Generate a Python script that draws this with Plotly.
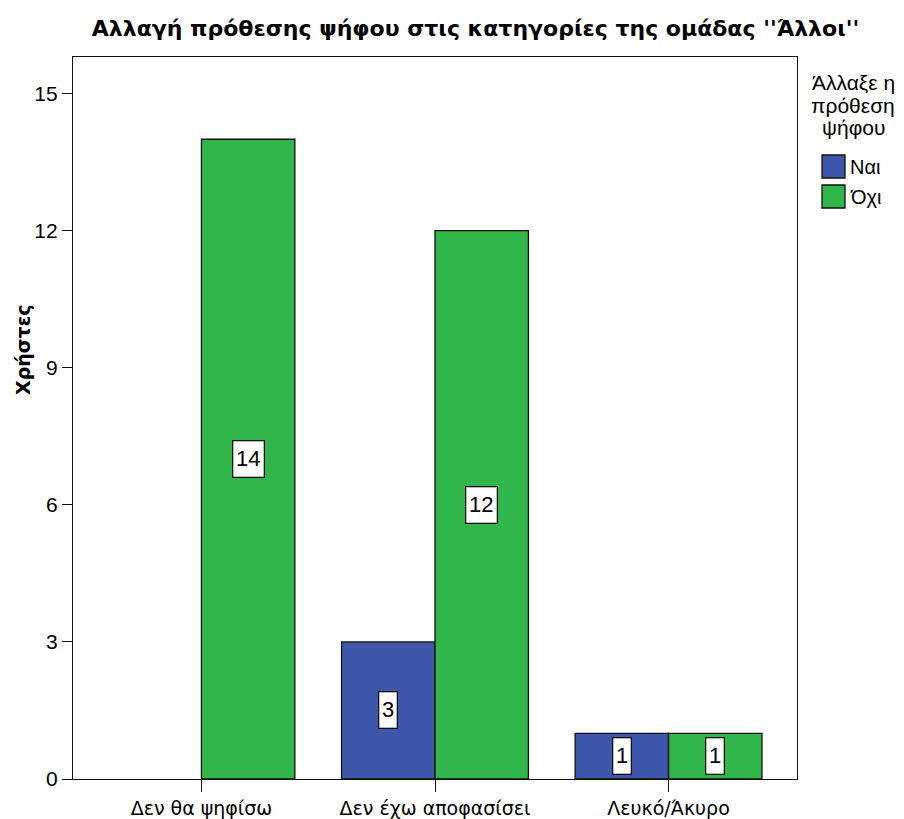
import plotly.graph_objects as go

categories = ["Δεν θα ψηφίσω", "Δεν έχω αποφασίσει", "Λευκό/Άκυρο"]
series_names = ["Ναι", "Όχι"]
nai_values = [0, 3, 1]
oxi_values = [14, 12, 1]
y_ticks = [0, 3, 6, 9, 12, 15]

title = "Αλλαγή πρόθεσης ψήφου στις κατηγορίες της ομάδας ''Άλλοι''"
legend_title_lines = ["Άλλαξε η", "πρόθεση", "ψήφου"]
y_title = "Χρήστες"

BLUE = "#3E57AB"
GREEN = "#30B64A"
FONT = "Liberation Sans, Arial, sans-serif"
BOLD_FONT = "DejaVu Sans, Verdana, sans-serif"

# the page body adds an 8px margin, so the figure is shifted by 8px
OFF = 8
W, H = 904 - OFF, 819 - OFF
# plot area in screen pixels: x 73..797, y 57..779
L, T = 73 - OFF, 57 - OFF
R, B = W - (797 - OFF), H - (779 - OFF)


def px_x(px):
    # screen pixel column -> paper x
    return (px - OFF - L) / (W - L - R)


def px_y(py):
    # screen pixel row -> paper y
    return (H - B - (py - OFF)) / (H - T - B)


fig = go.Figure()
x_idx = list(range(len(categories)))
colors = [BLUE, GREEN]
all_values = [nai_values, oxi_values]

for name, vals, color in zip(series_names, all_values, colors):
    fig.add_trace(go.Bar(
        x=x_idx,
        y=vals,
        name=name,
        # no outline on empty bars (SPSS draws nothing there)
        marker=dict(color=color, line=dict(color="#111111",
                                           width=[1.3 if v else 0 for v in vals])),
        hoverinfo="x+y+name",
        showlegend=False,
    ))

# white boxed value labels in the middle of each bar
offsets = [-0.2, 0.2]
for off, vals in zip(offsets, all_values):
    for i, v in enumerate(vals):
        if not v:
            continue
        label = str(v)
        fig.add_annotation(
            x=i + off, y=v / 2, xref="x", yref="y",
            text=label, showarrow=False,
            font=dict(family=FONT, size=22, color="black"),
            width=len(label) * 12.5 + 5, height=35,
            bgcolor="white", bordercolor="#111111", borderwidth=1.3, borderpad=0,
        )

# y axis title (SPSS places it a bit above the middle)
fig.add_annotation(
    x=px_x(23), y=px_y(350), xref="paper", yref="paper",
    xanchor="center", yanchor="middle", textangle=-90,
    text=y_title, showarrow=False,
    font=dict(family=BOLD_FONT, size=19, color="black", weight="bold"),
)

# legend drawn by hand (SPSS style: centred title, big square swatches)
for k, line in enumerate(legend_title_lines):
    fig.add_annotation(
        x=px_x(853), y=px_y(82 + k * 23), xref="paper", yref="paper",
        xanchor="center", yanchor="middle",
        text=line, showarrow=False,
        font=dict(family=FONT, size=21, color="black"),
    )
for k, (name, color) in enumerate(zip(series_names, colors)):
    cy = 166.5 + k * 30
    fig.add_shape(
        type="rect", xref="paper", yref="paper",
        x0=px_x(822), x1=px_x(845), y0=px_y(cy - 11.5), y1=px_y(cy + 11.5),
        fillcolor=color, line=dict(color="#111111", width=1.3),
    )
    fig.add_annotation(
        x=px_x(848), y=px_y(cy), xref="paper", yref="paper",
        xanchor="left", yanchor="middle",
        text=name, showarrow=False,
        font=dict(family=FONT, size=20, color="black"),
    )

fig.update_layout(
    title=dict(text=title, x=(475.5 - OFF) / W, xanchor="center", xref="container",
               y=1 - (28 - OFF) / H, yanchor="middle", yref="container",
               font=dict(family=BOLD_FONT, size=22, color="black", weight="bold")),
    barmode="group",
    bargap=0.2,
    bargroupgap=0,
    width=W,
    height=H,
    margin=dict(l=L, r=R, t=T, b=B, autoexpand=False),
    plot_bgcolor="white",
    paper_bgcolor="white",
    font=dict(family=FONT, size=17, color="black"),
    showlegend=False,
)

fig.update_xaxes(
    range=[-0.55, 2.55],
    tickmode="array", tickvals=x_idx, ticktext=categories,
    ticks="outside", ticklen=12, tickcolor="#111111", tickwidth=1.3,
    showline=True, linecolor="#111111", linewidth=1.3, mirror=True,
    showgrid=False, zeroline=False, automargin=False,
    tickfont=dict(family="DejaVu Sans, sans-serif", size=19),
)
fig.update_yaxes(
    range=[0, 15.8],
    tickmode="array", tickvals=y_ticks,
    ticks="outside", ticklen=10, tickcolor="#111111", tickwidth=1.3,
    showline=True, linecolor="#111111", linewidth=1.3, mirror=True,
    showgrid=False, zeroline=False, automargin=False,
    tickfont=dict(family=FONT, size=21),
)

fig.write_html("out.html")
